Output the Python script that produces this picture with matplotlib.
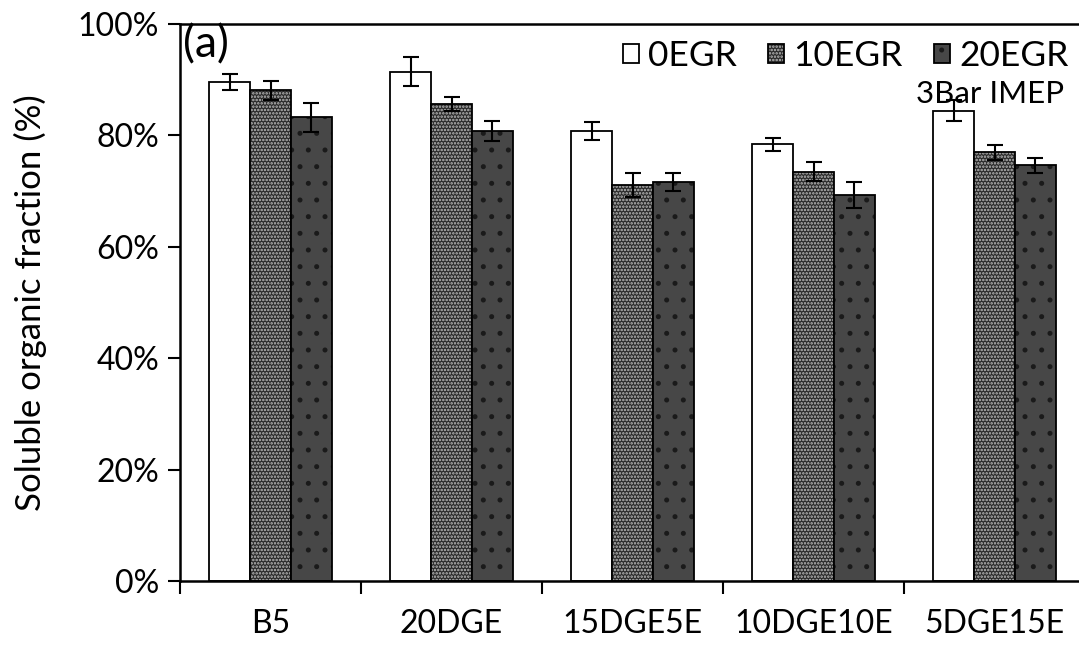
import numpy as np
import matplotlib
matplotlib.use('Agg')
import matplotlib.pyplot as plt
from matplotlib.ticker import PercentFormatter
from matplotlib.legend_handler import HandlerTuple

plt.rcParams['font.family'] = ['Lato', 'DejaVu Sans']
plt.rcParams['hatch.linewidth'] = 1.2

fuels = ['B5', '20DGE', '15DGE5E', '10DGE10E', '5DGE15E']
series = ['0EGR', '10EGR', '20EGR']
egr0 = [89.6, 91.4, 80.8, 78.4, 84.4]
egr10 = [88.1, 85.6, 71.1, 73.5, 77.0]
egr20 = [83.3, 80.8, 71.7, 69.3, 74.6]
err0 = [1.4, 2.6, 1.6, 1.2, 1.9]
err10 = [1.7, 1.3, 2.1, 1.7, 1.35]
err20 = [2.6, 1.8, 1.6, 2.3, 1.4]

values = [egr0, egr10, egr20]
errors = [err0, err10, err20]
faces = ['white', '#2a2a2a', '#474747']
hatches = [None, '.....', '.']
hcolors = ['white', '#bcbcbc', '#1a1a1a']

fig = plt.figure(figsize=(10.79, 6.5), dpi=100)
ax = fig.add_axes([180/1079, 69/650, 905/1079, 557/650])

x = np.arange(len(fuels))
w = 0.225
handles = []
for i in range(3):
    pos = x + (i - 1) * w
    # hatch fill first, black outline on top
    b1 = ax.bar(pos, values[i], w, color=faces[i], hatch=hatches[i],
                edgecolor=hcolors[i], linewidth=0)
    b2 = ax.bar(pos, values[i], w, fill=False, edgecolor='black', linewidth=1.3)
    ax.errorbar(pos, values[i], yerr=errors[i], fmt='none', ecolor='black',
                elinewidth=1.5, capsize=6, capthick=1.5)
    handles.append((b1[0], b2[0]))

ax.set_xlim(-0.5, 4.5)
ax.set_ylim(0, 100)
ax.set_yticks(np.arange(0, 101, 20))
ax.yaxis.set_major_formatter(PercentFormatter(decimals=0))
ax.set_xticks(np.arange(-0.5, 5, 1))
ax.set_xticklabels([])
ax.set_xticks(x, minor=True)
ax.set_xticklabels(fuels, minor=True)
ax.tick_params(axis='x', which='minor', length=0, pad=20, labelsize=23)
ax.tick_params(axis='x', which='major', direction='out', length=9, width=1.5)
ax.tick_params(axis='y', direction='out', length=9, width=1.5, labelsize=23, pad=6)
for s in ['left', 'bottom', 'top', 'right']:
    ax.spines[s].set_linewidth(1.8)
ax.set_ylabel('Soluble organic fraction (%)', fontsize=25, labelpad=22)

ax.text(0.003, 1.0, '(a)', transform=ax.transAxes, fontsize=32,
        va='top', ha='left')
ax.legend(handles, series, handler_map={tuple: HandlerTuple(ndivide=1)},
          ncol=3, frameon=False, fontsize=25.5, loc='upper right',
          bbox_to_anchor=(1.017, 1.028), handlelength=0.45, handleheight=0.45,
          handletextpad=0.25, columnspacing=0.9)
ax.text(0.977, 0.9, '3Bar IMEP', transform=ax.transAxes, fontsize=22.5,
        va='top', ha='right')

fig.savefig('out.png', dpi=100)
